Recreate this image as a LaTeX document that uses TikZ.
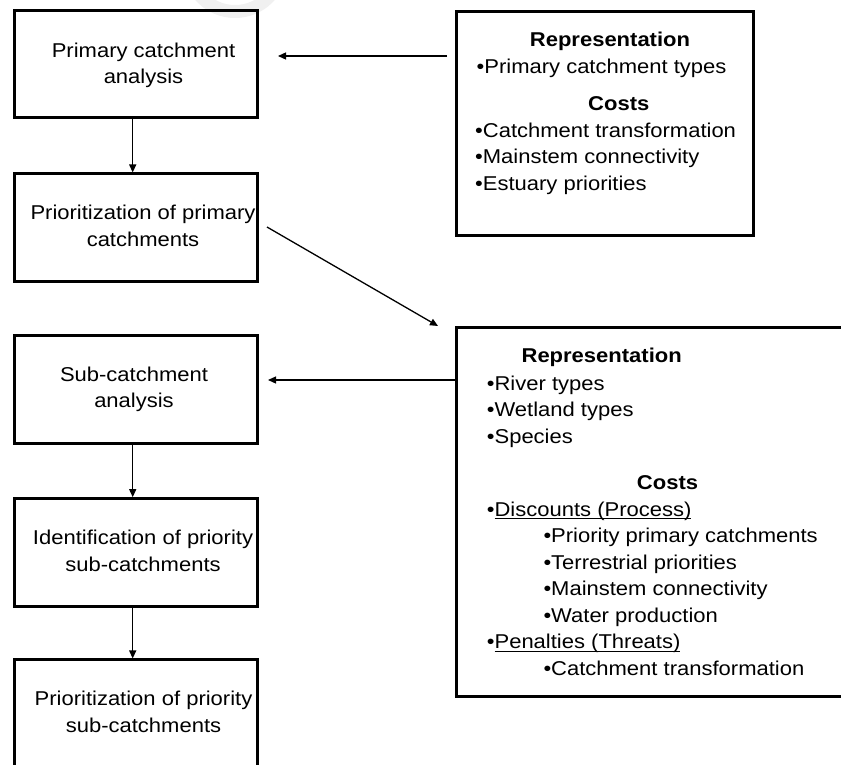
\documentclass[tikz,border=0pt]{standalone}
\usepackage{fontspec}
\setmainfont{Liberation Sans}[FakeStretch=1.1]
\usetikzlibrary{arrows.meta}
\newcommand\myul[1]{\setbox0\hbox{#1}\rlap{\rule[-3.2pt]{\wd0}{1.4pt}}\box0}
\begin{document}
\begin{tikzpicture}[x=1pt,y=-1pt,
  box/.style={draw, line width=3pt, minimum width=243pt, minimum height=107.5pt, inner sep=0pt},
  bigbox/.style={draw, line width=3pt, inner sep=0pt},
  txt/.style={font=\fontsize{20}{24}\selectfont, inner sep=0pt, anchor=base},
  ltxt/.style={txt, anchor=base west},
  htxt/.style={txt, font=\fontsize{20}{24}\selectfont\bfseries},
  arr/.style={line width=1.3pt, -{Triangle[length=8pt,width=7pt]}}
]
\useasboundingbox (0,0) rectangle (841,764);
\clip (0,0) rectangle (841,764);
% faint watermark fragment
\draw[black!6, line width=13pt] (235,-35) circle (46.5);

% left column boxes
\node[box] (b1) at (136.2,64) {};
\node[box] (b2) at (136.2,227.7) {};
\node[box] (b3) at (136.2,389.5) {};
\node[box] (b4) at (136.2,552.4) {};
\node[box] (b5) at (136.2,713.7) {};

\node[txt] (t1a) at (143.5,57) {Primary catchment};
\node[txt] (t1b) at (143.5,83.7) {analysis};
\node[txt] (t2a) at (143,219.5) {Prioritization of primary};
\node[txt] (t2b) at (143,246.2) {catchments};
\node[txt] (t3a) at (134,381) {Sub-catchment};
\node[txt] (t3b) at (134,407.7) {analysis};
\node[txt] (t4a) at (143,544.5) {Identification of priority};
\node[txt] (t4b) at (143,571.2) {sub-catchments};
\node[txt] (t5a) at (143.5,705.5) {Prioritization of priority};
\node[txt] (t5b) at (143.5,732.2) {sub-catchments};

% right top box
\node[bigbox, minimum width=296.6pt, minimum height=224pt] (rt) at (605,123.3) {};
\node[htxt] (rth1) at (610,46.7) {Representation};
\node[ltxt] (rtl1) at (476.5,73.3) {•Primary catchment types};
\node[htxt] (rth2) at (618.8,110.7) {Costs};
\node[ltxt] (rtl2) at (475,137.5) {•Catchment transformation};
\node[ltxt] (rtl3) at (475,163.8) {•Mainstem connectivity};
\node[ltxt] (rtl4) at (475,190.1) {•Estuary priorities};

% right bottom box
\node[bigbox, minimum width=403.7pt, minimum height=369.1pt] (rb) at (658.2,511.8) {};
\node[htxt] (rbh1) at (601.7,362.7) {Representation};
\node[ltxt] (rbl1) at (486.7,390.2) {•River types};
\node[ltxt] (rbl2) at (486.7,416.7) {•Wetland types};
\node[ltxt] (rbl3) at (486.7,443.2) {•Species};
\node[htxt] (rbh2) at (667.5,489.5) {Costs};
\node[ltxt] (rbl4) at (486.7,516.2) {•\myul{Discounts (Process)}};
\node[ltxt] (rbl5) at (543.3,542.7) {•Priority primary catchments};
\node[ltxt] (rbl6) at (543.3,569.2) {•Terrestrial priorities};
\node[ltxt] (rbl7) at (543.3,595.7) {•Mainstem connectivity};
\node[ltxt] (rbl8) at (543.3,622.2) {•Water production};
\node[ltxt] (rbl9) at (486.7,648.7) {•\myul{Penalties (Threats)}};
\node[ltxt] (rbl10) at (543.3,675.2) {•Catchment transformation};

% connectors
\draw[arr] ([xshift=-3.5pt]b1.south) -- ([xshift=-3.5pt]b2.north);
\draw[arr] ([xshift=-3.5pt]b3.south) -- ([xshift=-3.5pt]b4.north);
\draw[arr] ([xshift=-3.5pt]b4.south) -- ([xshift=-3.5pt]b5.north);

\coordinate (a1s) at (447,56);
\coordinate (a1e) at (278,56);
\draw[arr] (a1s) -- (a1e);

\coordinate (d1s) at (267,227);
\coordinate (d1e) at (438,326);
\draw[arr] (d1s) -- (d1e);

\coordinate (a3e) at (268,380);
\draw[arr] (rb.west |- a3e) -- (a3e);
\end{tikzpicture}
\end{document}
